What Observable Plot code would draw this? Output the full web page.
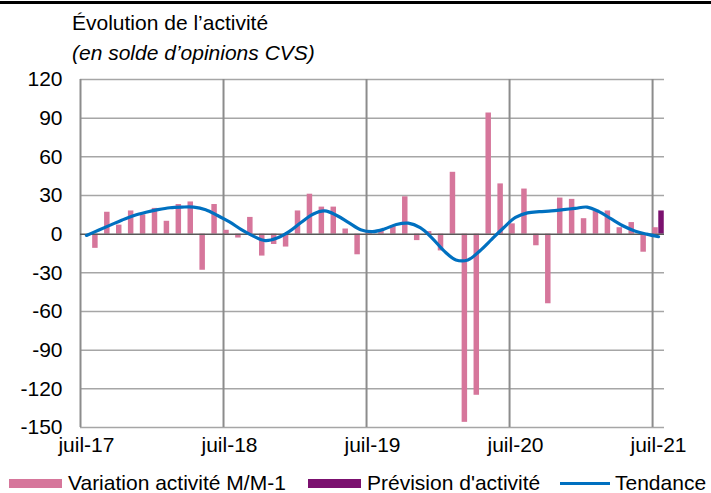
<!DOCTYPE html>
<html>
<head>
<meta charset="utf-8">
<script src="https://cdn.jsdelivr.net/npm/d3@7"></script>
<script src="https://cdn.jsdelivr.net/npm/@observablehq/plot@0.6"></script>
<style>
  html, body { margin: 0; padding: 0; background: #fff; }
  #wrap { position: relative; width: 711px; height: 493px; overflow: hidden; font-family: "Liberation Sans", Arial, sans-serif; color: #000; }
  #topbar { position: absolute; left: 0; top: 1px; width: 711px; height: 3px; background: #000; }
  #title { position: absolute; left: 72px; top: 11px; font-size: 21px; line-height: 24px; white-space: nowrap; }
  #subtitle { position: absolute; left: 72px; top: 41px; font-size: 21px; line-height: 24px; font-style: italic; white-space: nowrap; }
  #chart { position: absolute; left: 0; top: 0; }
  #legend { position: absolute; left: 0; top: 473px; height: 20px; width: 711px; font-size: 21px; line-height: 20px; white-space: nowrap; }
  .item { position: absolute; top: 0; display: flex; align-items: center; height: 20px; }
  .sw { display: inline-block; width: 53px; height: 9px; margin-right: 6px; }
  .ln { display: inline-block; width: 50px; height: 3px; margin-right: 5px; }
</style>
</head>
<body>
<div id="wrap">
  <div id="topbar"></div>
  <div id="chart"></div>
  <div id="title">Évolution de l’activité</div>
  <div id="subtitle">(en solde d’opinions CVS)</div>
  <div id="legend"></div>
</div>
<script>
// Categories (months)
const months = [
  "juil-17","août-17","sept-17","oct-17","nov-17","déc-17","janv-18","févr-18","mars-18","avr-18","mai-18","juin-18",
  "juil-18","août-18","sept-18","oct-18","nov-18","déc-18","janv-19","févr-19","mars-19","avr-19","mai-19","juin-19",
  "juil-19","août-19","sept-19","oct-19","nov-19","déc-19","janv-20","févr-20","mars-20","avr-20","mai-20","juin-20",
  "juil-20","août-20","sept-20","oct-20","nov-20","déc-20","janv-21","févr-21","mars-21","avr-21","mai-21","juin-21",
  "juil-21"
];
// Series: Variation activité M/M-1
const variation = [
  0, -11, 17, 7, 18, 15, 20, 10, 23, 25, -28, 23,
  3, -3, 13, -17, -8, -10, 18, 31, 21, 21, 4, -16,
  1, 3, 6, 29, -5, 2, -13, 48, -146, -125, 94, 39,
  8, 35, -9, -54, 28, 27, 12, 18, 18, 5, 9, -14,
  5
];
// Series: Prévision d'activité
const previsionMonths = ["juil-21"];
const previsionValues = [18];
// Series: Tendance
const tendance = [
  -1, 3, 7, 11, 14.5, 17, 19, 20.5, 21, 21, 19, 14.5,
  9.5, 3.5, -1.5, -5, -3, 2, 9, 15.5, 18, 14.5, 9, 3.5,
  2, 4, 7.5, 8.5, 5, -3, -13, -20, -20, -13, -4, 5,
  13, 16.5, 17.5, 18, 19, 20, 21, 17.5, 12, 6.5, 2.5, 0,
  -2
];
// Axis ticks
const xTickLabels = ["juil-17", "juil-18", "juil-19", "juil-20", "juil-21"];
const yTicks = [-150, -120, -90, -60, -30, 0, 30, 60, 90, 120];

const colors = { variation: "#D6769B", prevision: "#7B116F", tendance: "#0070C0" };

const varData = months.map((m, i) => ({ i, month: m, value: variation[i] }));
const prevData = previsionMonths.map((m, k) => ({ i: months.indexOf(m), month: m, value: previsionValues[k] }));
const trendData = months.map((m, i) => ({ i, month: m, value: tendance[i] }));
const tickIdx = xTickLabels.map(l => months.indexOf(l));
const yearBounds = tickIdx.map(i => i - 0.5);

const chart = Plot.plot({
  width: 711,
  height: 493,
  marginLeft: 80,
  marginRight: 47,
  marginTop: 79,
  marginBottom: 66,
  style: { fontFamily: "'Liberation Sans', Arial, sans-serif", fontSize: "21px", color: "#000", background: "transparent" },
  x: { type: "linear", domain: [-0.5, months.length - 0.5] },
  y: { domain: [-150, 120] },
  marks: [
    Plot.ruleY(yTicks.filter(t => t !== 0), { stroke: "#a6a6a6", strokeWidth: 1.5 }),
    Plot.ruleX(yearBounds, { stroke: "#8c8c8c", strokeWidth: 2 }),
    Plot.rectY(varData, { x1: d => d.i - 0.48, x2: d => d.i - 0.02, y: "value", fill: colors.variation }),
    Plot.rectY(prevData, { x1: d => d.i + 0.02, x2: d => d.i + 0.48, y: "value", fill: colors.prevision }),
    Plot.ruleY([0], { stroke: "#595959", strokeWidth: 1.5 }),
    Plot.line(trendData, { x: "i", y: "value", curve: "catmull-rom", stroke: colors.tendance, strokeWidth: 3.2 }),
    Plot.axisY({ ticks: yTicks, tickSize: 0, tickPadding: 18, tickFormat: d => String(d), label: null }),
    Plot.axisX({ ticks: tickIdx, tickSize: 0, tickPadding: 10, tickFormat: (d, k) => xTickLabels[k], label: null })
  ]
});
document.getElementById("chart").appendChild(chart);

// Legend
const legendItems = [
  { label: "Variation activité M/M-1", kind: "bar", color: colors.variation, x: 9 },
  { label: "Prévision d'activité", kind: "bar", color: colors.prevision, x: 308 },
  { label: "Tendance", kind: "line", color: colors.tendance, x: 560 }
];
const legend = document.getElementById("legend");
legendItems.forEach(it => {
  const div = document.createElement("div");
  div.className = "item";
  div.style.left = it.x + "px";
  const sw = document.createElement("span");
  sw.className = it.kind === "bar" ? "sw" : "ln";
  sw.style.background = it.color;
  div.appendChild(sw);
  const t = document.createElement("span");
  t.textContent = it.label;
  div.appendChild(t);
  legend.appendChild(div);
});
</script>
</body>
</html>
